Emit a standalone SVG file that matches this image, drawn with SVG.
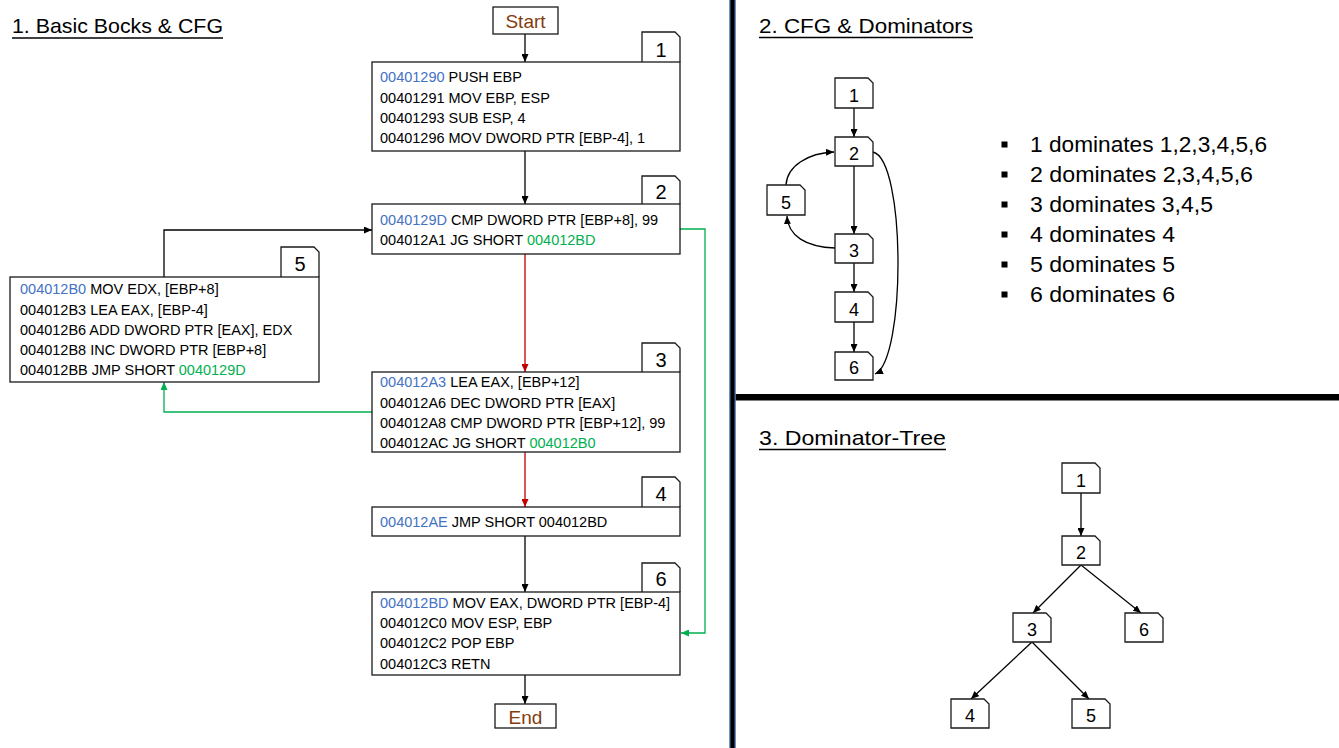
<svg xmlns="http://www.w3.org/2000/svg" width="1339" height="748" viewBox="0 0 1339 748">
<style>
text{font-family:"Liberation Sans",Arial,sans-serif;fill:#000}
.code{font-size:14.5px}
.addr{fill:#4472C4}
.jmp{fill:#00B050}
.box{fill:#fff;stroke:#1a1a1a;stroke-width:1.3}
.num{font-size:20px;text-anchor:middle}
.snum{font-size:18px;text-anchor:middle}
.title{font-size:21px}
.list{font-size:21.5px}
.term{font-size:19px;fill:#843C0C;text-anchor:middle}
.edge{fill:none;stroke:#000;stroke-width:1.3}
.red{stroke:#C00000}
.green{stroke:#00B050}
.ul{stroke:#000;stroke-width:1.5}
</style>
<defs>
<marker id="ah" viewBox="0 0 8 7" refX="8" refY="3.5" markerWidth="8" markerHeight="7" markerUnits="userSpaceOnUse" orient="auto"><path d="M0,0 L8,3.5 L0,7z" fill="#000"/></marker>
<marker id="ahr" viewBox="0 0 8 7" refX="8" refY="3.5" markerWidth="8" markerHeight="7" markerUnits="userSpaceOnUse" orient="auto"><path d="M0,0 L8,3.5 L0,7z" fill="#C00000"/></marker>
<marker id="ahg" viewBox="0 0 8 7" refX="8" refY="3.5" markerWidth="8" markerHeight="7" markerUnits="userSpaceOnUse" orient="auto"><path d="M0,0 L8,3.5 L0,7z" fill="#00B050"/></marker>
</defs>
<rect width="1339" height="748" fill="#fff"/>

<!-- dividers -->
<g id="dividers">
<rect x="729.3" y="0" width="6.4" height="748" fill="#3a5fa0"/>
<rect x="730.6" y="0" width="3.8" height="748" fill="#000"/>
<rect x="735.7" y="394" width="603.3" height="6.5" fill="#000"/>
</g>

<!-- titles -->
<g id="titles">
<text class="title" x="12" y="33" textLength="211" lengthAdjust="spacingAndGlyphs">1. Basic Bocks &amp; CFG</text>
<line class="ul" x1="12" y1="38" x2="223" y2="38"/>
<text class="title" x="759" y="33" textLength="214" lengthAdjust="spacingAndGlyphs">2. CFG &amp; Dominators</text>
<line class="ul" x1="759" y1="37.5" x2="973" y2="37.5"/>
<text class="title" x="759" y="445" textLength="187" lengthAdjust="spacingAndGlyphs">3. Dominator-Tree</text>
<line class="ul" x1="759" y1="449.5" x2="946" y2="449.5"/>
</g>

<!-- connectors -->
<g id="connectors">
<path class="edge" d="M525,34 V62" marker-end="url(#ah)"/>
<path class="edge" d="M525,151 V204" marker-end="url(#ah)"/>
<path class="edge red" d="M525,254 V372" marker-end="url(#ahr)"/>
<path class="edge red" d="M525,452 V507" marker-end="url(#ahr)"/>
<path class="edge" d="M525,536 V592" marker-end="url(#ah)"/>
<path class="edge" d="M525,675 V704" marker-end="url(#ah)"/>
<path class="edge green" d="M680,229 H705 V633 H681" marker-end="url(#ahg)"/>
<path class="edge" d="M164,277 V230 H372" marker-end="url(#ah)"/>
<path class="edge green" d="M372,412 H164 V382" marker-end="url(#ahg)"/>
<path class="edge" d="M854,108 V137" marker-end="url(#ah)"/>
<path class="edge" d="M854,166 V234" marker-end="url(#ah)"/>
<path class="edge" d="M854,263 V292" marker-end="url(#ah)"/>
<path class="edge" d="M854,322 V352" marker-end="url(#ah)"/>
<path class="edge" d="M835,248 C806,247 788,236 787,216" marker-end="url(#ah)"/>
<path class="edge" d="M786,185 C787,166 808,153 834,152" marker-end="url(#ah)"/>
<path class="edge" d="M873,152 C906,160 906,360 875,374" marker-end="url(#ah)"/>
<path class="edge" d="M1081,493 V536" marker-end="url(#ah)"/>
<path class="edge" d="M1081,565 L1033,613" marker-end="url(#ah)"/>
<path class="edge" d="M1081,565 L1141,613" marker-end="url(#ah)"/>
<path class="edge" d="M1032,642 L971,699" marker-end="url(#ah)"/>
<path class="edge" d="M1032,642 L1089,699" marker-end="url(#ah)"/>
</g>

<!-- Start / End -->
<g id="start">
<rect class="box" x="493" y="7" width="65" height="27"/>
<text class="term" x="525.5" y="28">Start</text>
</g>
<g id="end">
<rect class="box" x="495" y="704" width="61" height="24"/>
<text class="term" x="525.5" y="724">End</text>
</g>

<!-- Block 1 -->
<g id="block1">
<path class="box" d="M642,62 V32 H675 L680,37 V62"/>
<text class="num" x="661" y="56.5">1</text>
<rect class="box" x="372" y="62" width="308" height="89"/>
<text class="code" x="380" y="82"><tspan class="addr">00401290</tspan> PUSH EBP</text>
<text class="code" x="380" y="102.5">00401291 MOV EBP, ESP</text>
<text class="code" x="380" y="122.5">00401293 SUB ESP, 4</text>
<text class="code" x="380" y="142.5">00401296 MOV DWORD PTR [EBP-4], 1</text>
</g>

<!-- Block 2 -->
<g id="block2">
<path class="box" d="M642,204 V176 H675 L680,181 V204"/>
<text class="num" x="661" y="199">2</text>
<rect class="box" x="372" y="204" width="308" height="50"/>
<text class="code" x="380" y="225"><tspan class="addr">0040129D</tspan> CMP DWORD PTR [EBP+8], 99</text>
<text class="code" x="380" y="245">004012A1 JG SHORT <tspan class="jmp">004012BD</tspan></text>
</g>

<!-- Block 3 -->
<g id="block3">
<path class="box" d="M642,372 V343 H675 L680,348 V372"/>
<text class="num" x="661" y="367">3</text>
<rect class="box" x="372" y="372" width="308" height="80"/>
<text class="code" x="380" y="387"><tspan class="addr">004012A3</tspan> LEA EAX, [EBP+12]</text>
<text class="code" x="380" y="408">004012A6 DEC DWORD PTR [EAX]</text>
<text class="code" x="380" y="428">004012A8 CMP DWORD PTR [EBP+12], 99</text>
<text class="code" x="380" y="448">004012AC JG SHORT <tspan class="jmp">004012B0</tspan></text>
</g>

<!-- Block 4 -->
<g id="block4">
<path class="box" d="M642,507 V477 H675 L680,482 V507"/>
<text class="num" x="661" y="501">4</text>
<rect class="box" x="372" y="507" width="308" height="29"/>
<text class="code" x="380" y="527"><tspan class="addr">004012AE</tspan> JMP SHORT 004012BD</text>
</g>

<!-- Block 6 -->
<g id="block6">
<path class="box" d="M642,592 V563 H675 L680,568 V592"/>
<text class="num" x="661" y="586">6</text>
<rect class="box" x="372" y="592" width="308" height="83"/>
<text class="code" x="380" y="608"><tspan class="addr">004012BD</tspan> MOV EAX, DWORD PTR [EBP-4]</text>
<text class="code" x="380" y="628">004012C0 MOV ESP, EBP</text>
<text class="code" x="380" y="648">004012C2 POP EBP</text>
<text class="code" x="380" y="669">004012C3 RETN</text>
</g>

<!-- Block 5 -->
<g id="block5">
<path class="box" d="M281,277 V247 H314 L319,252 V277"/>
<text class="num" x="300" y="271">5</text>
<rect class="box" x="10" y="277" width="309" height="105"/>
<text class="code" x="20" y="294"><tspan class="addr">004012B0</tspan> MOV EDX, [EBP+8]</text>
<text class="code" x="20" y="315">004012B3 LEA EAX, [EBP-4]</text>
<text class="code" x="20" y="335">004012B6 ADD DWORD PTR [EAX], EDX</text>
<text class="code" x="20" y="355">004012B8 INC DWORD PTR [EBP+8]</text>
<text class="code" x="20" y="375">004012BB JMP SHORT <tspan class="jmp">0040129D</tspan></text>
</g>

<!-- Section 2 nodes -->
<g id="cfg1"><path class="box" d="M835,108 V78 H868 L873,83 V108 Z"/><text class="snum" x="854" y="102">1</text></g>
<g id="cfg2"><path class="box" d="M835,166 V137 H868 L873,142 V166 Z"/><text class="snum" x="854" y="160">2</text></g>
<g id="cfg5"><path class="box" d="M767,215 V185 H800 L805,190 V215 Z"/><text class="snum" x="786" y="209">5</text></g>
<g id="cfg3"><path class="box" d="M835,263 V234 H868 L873,239 V263 Z"/><text class="snum" x="854" y="257">3</text></g>
<g id="cfg4"><path class="box" d="M835,322 V292 H868 L873,297 V322 Z"/><text class="snum" x="854" y="316">4</text></g>
<g id="cfg6"><path class="box" d="M835,380 V352 H868 L873,357 V380 Z"/><text class="snum" x="854" y="374">6</text></g>

<!-- Dominator list -->
<g id="domlist">
<rect x="1001.5" y="141.5" width="6" height="6"/>
<rect x="1001.5" y="171.5" width="6" height="6"/>
<rect x="1001.5" y="201.5" width="6" height="6"/>
<rect x="1001.5" y="231.5" width="6" height="6"/>
<rect x="1001.5" y="261.5" width="6" height="6"/>
<rect x="1001.5" y="291.5" width="6" height="6"/>
<text class="list" x="1030" y="152" textLength="237" lengthAdjust="spacingAndGlyphs">1 dominates 1,2,3,4,5,6</text>
<text class="list" x="1030" y="182" textLength="223" lengthAdjust="spacingAndGlyphs">2 dominates 2,3,4,5,6</text>
<text class="list" x="1030" y="212" textLength="183" lengthAdjust="spacingAndGlyphs">3 dominates 3,4,5</text>
<text class="list" x="1030" y="242" textLength="145" lengthAdjust="spacingAndGlyphs">4 dominates 4</text>
<text class="list" x="1030" y="272" textLength="145" lengthAdjust="spacingAndGlyphs">5 dominates 5</text>
<text class="list" x="1030" y="302" textLength="145" lengthAdjust="spacingAndGlyphs">6 dominates 6</text>
</g>

<!-- Dominator tree nodes -->
<g id="dt1"><path class="box" d="M1062,493 V463 H1095 L1100,468 V493 Z"/><text class="snum" x="1081" y="487">1</text></g>
<g id="dt2"><path class="box" d="M1062,565 V536 H1095 L1100,541 V565 Z"/><text class="snum" x="1081" y="559">2</text></g>
<g id="dt3"><path class="box" d="M1013,642 V613 H1046 L1051,618 V642 Z"/><text class="snum" x="1032" y="636">3</text></g>
<g id="dt6"><path class="box" d="M1125,642 V613 H1158 L1163,618 V642 Z"/><text class="snum" x="1144" y="636">6</text></g>
<g id="dt4"><path class="box" d="M951,728 V699 H984 L989,704 V728 Z"/><text class="snum" x="970" y="722">4</text></g>
<g id="dt5"><path class="box" d="M1072,728 V699 H1105 L1110,704 V728 Z"/><text class="snum" x="1091" y="722">5</text></g>
</svg>
